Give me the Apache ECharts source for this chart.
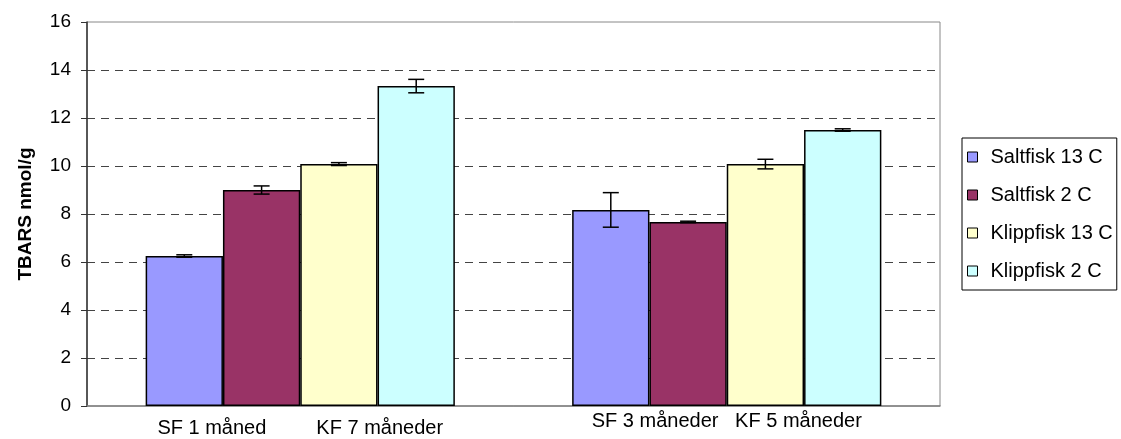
<!DOCTYPE html>
<html>
<head>
<meta charset="utf-8">
<title>TBARS</title>
<script src="https://cdn.jsdelivr.net/npm/echarts@6/dist/echarts.min.js"></script>
<style>
html, body { margin: 0; padding: 0; background: #fff; }
#main { width: 1121px; height: 439px; }
</style>
</head>
<body>
<div id="main"></div>
<script>
// data
var categories = ['SF 1 måned / KF 7 måneder', 'SF 3 måneder / KF 5 måneder'];
var labelLeft = ['SF 1 måned', 'SF 3 måneder'];
var labelRight = ['KF 7 måneder', 'KF 5 måneder'];
var seriesNames = ['Saltfisk 13 C', 'Saltfisk 2 C', 'Klippfisk 13 C', 'Klippfisk 2 C'];
var saltfisk13 = [6.25, 8.17];
var saltfisk2 = [9.0, 7.67];
var klippfisk13 = [10.08, 10.08];
var klippfisk2 = [13.33, 11.5];
var errSaltfisk13 = [0.05, 0.72];
var errSaltfisk2 = [0.17, 0.03];
var errKlippfisk13 = [0.06, 0.2];
var errKlippfisk2 = [0.28, 0.05];
var yTicks = [0, 2, 4, 6, 8, 10, 12, 14, 16];

var colors = ['#9999ff', '#993366', '#ffffcc', '#ccffff'];
var values = [saltfisk13, saltfisk2, klippfisk13, klippfisk2];
var errors = [errSaltfisk13, errSaltfisk2, errKlippfisk13, errKlippfisk2];
var catGap = 0.275;

var myChart = echarts.init(document.getElementById('main'));

function errorRenderer(k){
	return function(params, api){
		var idx = api.value(0);
		var lo = api.coord([idx, api.value(1)]);
		var hi = api.coord([idx, api.value(2)]);
		var band = api.size([1, 0])[0];
		var barW = band * (1 - catGap) / 4;
		var x = lo[0] + (k - 1.5) * barW;
		var cap = 8;
		var st = { stroke: '#000', lineWidth: 1.5 };
		return {
			type: 'group',
			children: [
				{ type: 'line', shape: { x1: x, y1: hi[1], x2: x, y2: lo[1] }, style: st },
				{ type: 'line', shape: { x1: x - cap, y1: hi[1], x2: x + cap, y2: hi[1] }, style: st },
				{ type: 'line', shape: { x1: x - cap, y1: lo[1], x2: x + cap, y2: lo[1] }, style: st }
			]
		};
	};
}

var series = [];
for (var k = 0; k < 4; k++) {
	series.push({
		name: seriesNames[k],
		type: 'bar',
		data: values[k],
		barGap: 0,
		barCategoryGap: (catGap * 100) + '%',
		itemStyle: { color: colors[k], borderColor: '#000', borderWidth: 1.5 },
		emphasis: { disabled: true }
	});
}
for (var k = 0; k < 4; k++) {
	var errData = [];
	for (var i = 0; i < categories.length; i++) {
		errData.push([i, values[k][i] - errors[k][i], values[k][i] + errors[k][i]]);
	}
	series.push({
		name: 'err' + k,
		type: 'custom',
		renderItem: errorRenderer(k),
		data: errData,
		z: 10,
		silent: true
	});
}

option = {
	animation: false,
	backgroundColor: '#fff',
	textStyle: { fontFamily: 'Liberation Sans, Arial, sans-serif' },
	grid: {
		left: 87, right: 181, top: 22, bottom: 33,
		show: true, borderColor: '#888', borderWidth: 1,
		outerBoundsMode: 'none'
	},
	legend: {
		data: seriesNames,
		orient: 'vertical',
		left: 962, top: 138,
		padding: [9, 4, 9, 5],
		itemWidth: 10, itemHeight: 10,
		itemGap: 18,
		icon: 'rect',
		borderColor: '#000', borderWidth: 1,
		itemStyle: { borderColor: '#000', borderWidth: 1 },
		textStyle: { fontSize: 20, lineHeight: 20, color: '#000', fontFamily: 'Liberation Sans', padding: [0, 0, 0, 8] },
		selectedMode: false
	},
	xAxis: {
		type: 'category',
		data: categories,
		axisLine: { lineStyle: { color: '#808080', width: 1.5 } },
		axisTick: { show: false },
		axisLabel: {
			margin: 3,
			color: '#000',
			interval: 0,
			formatter: function(v, i){
				var gap = i === 0 ? '         ' : '   ';
				var st = i === 0 ? 'lo' : 'hi';
				return '{' + st + '|' + labelLeft[i] + gap + labelRight[i] + '}';
			},
			rich: {
				lo: { fontSize: 20, lineHeight: 38, color: '#000', fontFamily: 'Liberation Sans' },
				hi: { fontSize: 20, lineHeight: 24, color: '#000', fontFamily: 'Liberation Sans' }
			}
		}
	},
	yAxis: {
		type: 'value',
		min: yTicks[0],
		max: yTicks[yTicks.length - 1],
		interval: 2,
		name: 'TBARS nmol/g',
		nameLocation: 'middle',
		nameRotate: 90,
		nameGap: 52,
		nameTextStyle: { fontSize: 19, fontWeight: 'bold', color: '#000', fontFamily: 'Liberation Sans' },
		axisLine: { show: true, lineStyle: { color: '#333', width: 1.5 } },
		axisTick: { show: true, length: 6, lineStyle: { color: '#333' } },
		axisLabel: { margin: 16, fontSize: 19, color: '#000', fontFamily: 'Liberation Sans' },
		splitLine: {
			show: true,
			showMinLine: false,
			showMaxLine: false,
			lineStyle: { color: '#444', type: [8, 6], width: 1 }
		}
	},
	series: series
};

myChart.setOption(option);
</script>
</body>
</html>
